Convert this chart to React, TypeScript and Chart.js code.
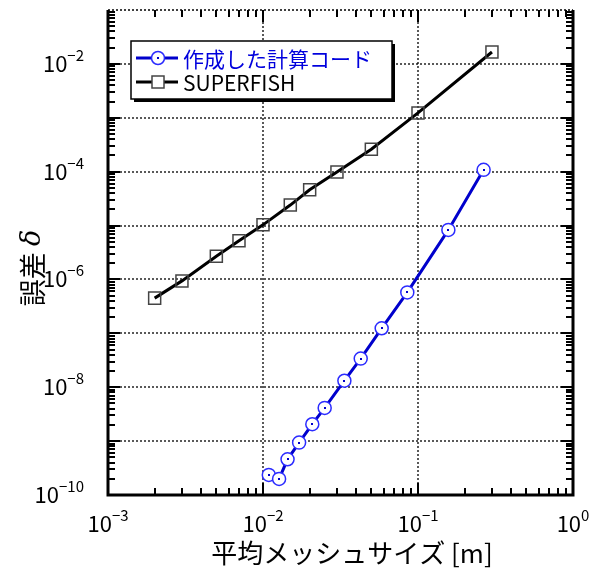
import React, { useEffect, useRef } from "react";
import { Chart, registerables } from "chart.js";

Chart.register(...registerables);

// ---- data ----
const oursX = [0.0109, 0.0127, 0.0144, 0.0171, 0.0208, 0.025, 0.0335, 0.0427, 0.0583, 0.0853, 0.157, 0.265];
const oursY = [2.36e-10, 1.99e-10, 4.6e-10, 9.4e-10, 2.06e-9, 4.13e-9, 1.32e-8, 3.4e-8, 1.24e-7, 5.74e-7, 8.3e-6, 1.08e-4];
const superX = [0.002, 0.003, 0.005, 0.007, 0.01, 0.015, 0.02, 0.03, 0.05, 0.1, 0.3];
const superY = [4.5e-7, 9.4e-7, 2.7e-6, 5.2e-6, 1.03e-5, 2.4e-5, 4.6e-5, 9.9e-5, 2.6e-4, 1.23e-3, 1.66e-2];

const seriesNames = ["作成した計算コード", "SUPERFISH"];
const xTickExps = [-3, -2, -1, 0];
const yTickExps = [-10, -8, -6, -4, -2];
const xDecadeExps = [-3, -2, -1];
const yDecadeExps = [-10, -9, -8, -7, -6, -5, -4, -3, -2];
const xTitle = "平均メッシュサイズ [m]";
const yTitleMain = "誤差";
const yTitleSym = "δ";

const X_MIN = 1e-3;
const X_MAX = 1;
const Y_MIN = 1e-10;
const Y_MAX = 1e-1;

const FONT = '"Noto Sans CJK JP", "Noto Sans", sans-serif';
const BLUE_LINE = "#0000cc";
const BLUE_MARK = "#2b2bff";

function drawPow(ctx: CanvasRenderingContext2D, exp: number, x: number, y: number, align: "center" | "right") {
  const base = "10";
  const sup = exp < 0 ? "\u2212" + Math.abs(exp) : String(exp);
  ctx.font = `22px ${FONT}`;
  const wb = ctx.measureText(base).width;
  ctx.font = `15px ${FONT}`;
  const ws = ctx.measureText(sup).width;
  const total = wb + ws;
  const start = align === "center" ? x - total / 2 : x - total;
  ctx.textAlign = "left";
  ctx.textBaseline = "alphabetic";
  ctx.fillStyle = "#000";
  ctx.font = `22px ${FONT}`;
  ctx.fillText(base, start, y);
  ctx.font = `15px ${FONT}`;
  ctx.fillText(sup, start + wb, y - 11);
}

const decorPlugin = {
  id: "decor",
  beforeDatasetsDraw(chart: any) {
    const { ctx, chartArea: a, scales } = chart;
    const xs = scales.x;
    const ys = scales.y;
    ctx.save();
    ctx.strokeStyle = "#000";
    ctx.lineWidth = 1.3;
    ctx.setLineDash([2, 2]);
    for (const e of xDecadeExps.slice(1)) {
      const p = Math.round(xs.getPixelForValue(10 ** e));
      ctx.beginPath();
      ctx.moveTo(p, a.top);
      ctx.lineTo(p, a.bottom);
      ctx.stroke();
    }
    for (const e of yDecadeExps.slice(1)) {
      const p = Math.round(ys.getPixelForValue(10 ** e));
      ctx.beginPath();
      ctx.moveTo(a.left, p);
      ctx.lineTo(a.right, p);
      ctx.stroke();
    }
    ctx.restore();
  },
  afterDatasetsDraw(chart: any) {
    const { ctx, chartArea: a, scales } = chart;
    const xs = scales.x;
    const ys = scales.y;
    ctx.save();

    // centre dots of circle markers
    const meta = chart.getDatasetMeta(0);
    ctx.fillStyle = BLUE_LINE;
    meta.data.forEach((pt: any) => {
      ctx.fillRect(Math.round(pt.x) - 1, Math.round(pt.y) - 1, 2, 2);
    });

    // ticks
    ctx.strokeStyle = "#000";
    ctx.lineWidth = 2;
    ctx.setLineDash([]);
    const minor = 7;
    const major = 12;
    for (const e of xDecadeExps) {
      for (let k = 1; k <= 9; k++) {
        const p = Math.round(xs.getPixelForValue(k * 10 ** e));
        const len = k === 1 ? major : minor;
        ctx.beginPath();
        ctx.moveTo(p, a.bottom);
        ctx.lineTo(p, a.bottom - len);
        ctx.moveTo(p, a.top);
        ctx.lineTo(p, a.top + len);
        ctx.stroke();
      }
    }
    for (const e of yDecadeExps) {
      for (let k = 1; k <= 9; k++) {
        const p = Math.round(ys.getPixelForValue(k * 10 ** e));
        const len = k === 1 ? major : minor;
        ctx.beginPath();
        ctx.moveTo(a.left, p);
        ctx.lineTo(a.left + len, p);
        ctx.moveTo(a.right, p);
        ctx.lineTo(a.right - len, p);
        ctx.stroke();
      }
    }

    // frame
    ctx.lineWidth = 3;
    ctx.beginPath();
    ctx.moveTo(a.left, a.top);
    ctx.lineTo(a.left, a.bottom);
    ctx.lineTo(a.right, a.bottom);
    ctx.lineTo(a.right, a.top);
    ctx.stroke();
    ctx.lineWidth = 1.5;
    ctx.setLineDash([2, 2]);
    ctx.beginPath();
    ctx.moveTo(a.left, a.top);
    ctx.lineTo(a.right, a.top);
    ctx.stroke();
    ctx.setLineDash([]);

    // tick labels
    for (const e of xTickExps) {
      const p = xs.getPixelForValue(10 ** e);
      drawPow(ctx, e, p, a.bottom + 37, "center");
    }
    for (const e of yTickExps) {
      const p = ys.getPixelForValue(10 ** e);
      drawPow(ctx, e, a.left - 24, p + 8, "right");
    }

    // axis titles
    ctx.fillStyle = "#000";
    ctx.font = `26px ${FONT}`;
    ctx.textAlign = "center";
    ctx.textBaseline = "middle";
    ctx.fillText(xTitle, 352, a.bottom + 58);

    ctx.save();
    ctx.translate(33, 268);
    ctx.rotate(-Math.PI / 2);
    ctx.font = `27px ${FONT}`;
    const wm = ctx.measureText(yTitleMain + " ").width;
    ctx.font = `italic 27px "DejaVu Serif", serif`;
    const wsym = ctx.measureText(yTitleSym).width;
    const st = -(wm + wsym) / 2;
    ctx.textAlign = "left";
    ctx.font = `27px ${FONT}`;
    ctx.fillText(yTitleMain + " ", st, 0);
    ctx.font = `italic 27px "DejaVu Serif", serif`;
    ctx.fillText(yTitleSym, st + wm, 0);
    ctx.restore();

    // legend
    const L = 131, T = 41, R = 392, B = 99;
    ctx.fillStyle = "#000";
    ctx.fillRect(L + 3, T + 3, R - L, B - T);
    ctx.fillStyle = "#fff";
    ctx.fillRect(L, T, R - L, B - T);
    ctx.strokeStyle = "#000";
    ctx.lineWidth = 1.5;
    ctx.strokeRect(L, T, R - L, B - T);

    const r1 = 58, r2 = 82;
    ctx.lineWidth = 3;
    ctx.strokeStyle = BLUE_LINE;
    ctx.beginPath();
    ctx.moveTo(136, r1);
    ctx.lineTo(178, r1);
    ctx.stroke();
    ctx.beginPath();
    ctx.arc(158, r1, 6.5, 0, Math.PI * 2);
    ctx.fillStyle = "#fff";
    ctx.fill();
    ctx.lineWidth = 1.5;
    ctx.strokeStyle = BLUE_MARK;
    ctx.stroke();
    ctx.fillStyle = BLUE_LINE;
    ctx.fillRect(157, r1 - 1, 2, 2);

    ctx.lineWidth = 3;
    ctx.strokeStyle = "#000";
    ctx.beginPath();
    ctx.moveTo(136, r2);
    ctx.lineTo(178, r2);
    ctx.stroke();
    ctx.fillStyle = "#fff";
    ctx.fillRect(152, r2 - 6, 12, 12);
    ctx.lineWidth = 1.5;
    ctx.strokeStyle = "#444";
    ctx.strokeRect(152, r2 - 6, 12, 12);

    ctx.font = `21px ${FONT}`;
    ctx.textAlign = "left";
    ctx.textBaseline = "middle";
    ctx.fillStyle = "#0000dd";
    ctx.fillText(seriesNames[0], 183, r1 + 1);
    ctx.fillStyle = "#000";
    ctx.fillText(seriesNames[1], 183, r2 + 1);

    ctx.restore();
  },
};

export default function App() {
  const ref = useRef<HTMLCanvasElement | null>(null);
  useEffect(() => {
    if (!ref.current) return;
    const chart = new Chart(ref.current, {
      type: "line",
      data: {
        datasets: [
          {
            label: seriesNames[0],
            data: oursX.map((x, i) => ({ x, y: oursY[i] })),
            borderColor: BLUE_LINE,
            borderWidth: 3,
            pointStyle: "circle",
            pointRadius: 6.5,
            pointBackgroundColor: "#fff",
            pointBorderColor: BLUE_MARK,
            pointBorderWidth: 1.5,
            tension: 0,
            fill: false,
          },
          {
            label: seriesNames[1],
            data: superX.map((x, i) => ({ x, y: superY[i] })),
            borderColor: "#000",
            borderWidth: 3,
            pointStyle: "rect",
            pointRadius: 8.5,
            pointBackgroundColor: "rgba(0,0,0,0)",
            pointBorderColor: "#444",
            pointBorderWidth: 1.5,
            tension: 0,
            fill: false,
          },
        ],
      },
      options: {
        responsive: false,
        animation: false,
        layout: { padding: { left: 108, top: 10, right: 19, bottom: 77 } },
        scales: {
          x: { type: "logarithmic", min: X_MIN, max: X_MAX, display: false },
          y: { type: "logarithmic", min: Y_MIN, max: Y_MAX, display: false },
        },
        plugins: { legend: { display: false }, tooltip: { enabled: false } },
      },
      plugins: [decorPlugin],
    } as any);
    return () => chart.destroy();
  }, []);
  return (
    <div style={{ position: "absolute", left: 0, top: 0, width: 592, height: 572, background: "#fff" }}>
      <canvas ref={ref} width={592} height={572} style={{ display: "block" }} />
    </div>
  );
}
